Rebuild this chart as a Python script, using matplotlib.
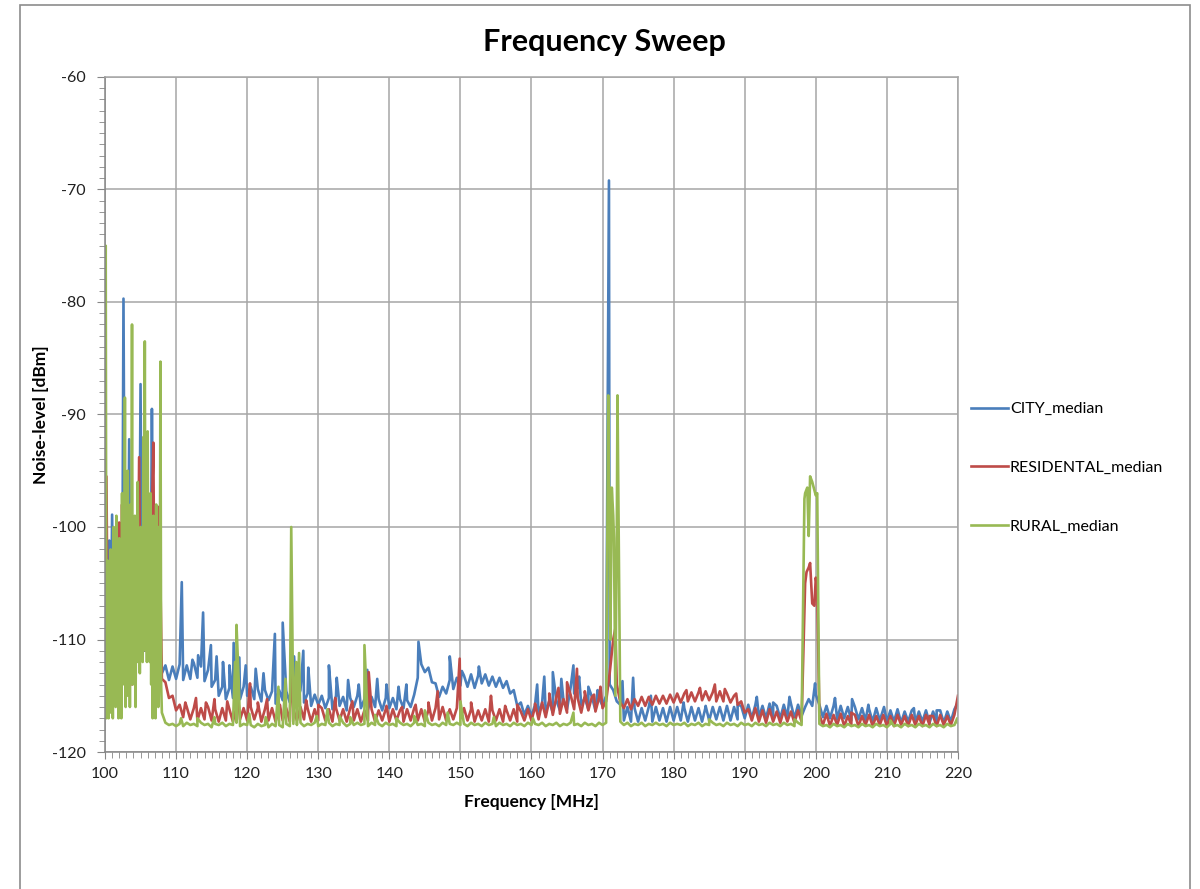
import numpy as np
import matplotlib.pyplot as plt
from matplotlib.patches import Rectangle
from matplotlib.ticker import MultipleLocator

plt.rcParams['font.family'] = ['Lato', 'DejaVu Sans']
plt.rcParams['axes.unicode_minus'] = False

# sweep grids [MHz]
f_dense = np.round(np.arange(100.0, 108.01, 0.2), 1)   # FM band, city + residental
f_fine = np.round(np.arange(100.0, 108.01, 0.1), 1)    # FM band, rural
f_main = np.round(np.arange(108.5, 220.01, 0.5), 1)    # rest of the sweep

################################ CITY #########################################
city_dense = [-108.5, -104.0, -110.0, -101.2, -112.0, -98.9, -111.0, -106.0, -113.0, -102.9,
              -110.0, -105.0, -112.0, -79.7, -108.0, -100.0, -111.0, -92.2, -109.0, -101.0,
              -112.0, -104.0, -110.0, -99.0, -108.0, -87.3, -110.0, -103.0, -111.0, -100.0,
              -109.0, -104.0, -110.0, -89.5, -106.0, -111.0, -102.0, -109.0, -104.0, -111.0,
              -113.0]
city_main = [-112.3, -113.6, -112.4, -113.5,
             # 110.5 - 120
             -112.2, -113.6, -112.3, -113.5, -112.1, -113.4, -112.4, -113.7, -112.7, -114.2,
             -113.6, -115.0, -114.2, -115.3, -114.3, -115.2, -114.4, -115.3, -114.2, -115.0,
             # 120.5 - 130
             -114.2, -115.3, -114.4, -115.5, -114.5, -115.4, -114.6, -115.7, -114.5, -115.4,
             -114.6, -115.6, -114.7, -115.5, -114.5, -115.6, -114.8, -115.9, -114.9, -115.8,
             # 130.5 - 140
             -115.0, -116.1, -115.2, -116.2, -115.0, -115.9, -115.1, -116.3, -115.2, -116.0,
             -115.0, -116.1, -115.3, -116.2, -115.1, -116.0, -115.3, -116.3, -115.2, -116.1,
             # 140.5 - 150
             -115.2, -116.2, -115.3, -116.1, -115.4, -116.0, -114.9, -113.4, -112.2, -112.9,
             -112.5, -113.8, -113.9, -115.1, -114.2, -114.8, -113.6, -114.4, -113.4, -114.1,
             # 150.5 - 160
             -113.2, -114.2, -113.1, -114.3, -113.2, -113.9, -113.1, -114.1, -113.3, -114.2,
             -113.4, -114.3, -113.7, -114.8, -114.5, -115.9, -115.6, -116.7, -115.9, -116.8,
             # 160.5 - 170
             -115.8, -116.7, -115.6, -116.5, -115.5, -116.5, -115.4, -116.3, -115.4, -116.2,
             -114.3, -114.8, -114.3, -115.8, -115.2, -116.2, -115.1, -116.3, -115.2, -115.9,
             # 170.5 - 180
             -115.0, -114.0, -114.5, -115.5, -115.8, -117.2, -116.0, -117.3, -116.1, -117.3,
             -116.1, -117.2, -116.0, -117.3, -116.0, -117.2, -116.1, -117.3, -116.0, -117.2,
             # 180.5 - 190
             -116.0, -117.2, -116.1, -117.3, -116.0, -117.2, -116.1, -117.3, -116.0, -117.2,
             -116.0, -117.1, -116.0, -117.2, -115.9, -117.2, -116.0, -117.1, -115.9, -117.0,
             # 190.5 - 200
             -115.8, -117.0, -115.8, -116.9, -115.9, -117.0, -115.7, -116.9, -115.9, -117.0,
             -115.8, -116.9, -115.7, -117.0, -115.8, -116.8, -116.0, -115.3, -115.9, -114.9,
             # 200.5 - 210
             -115.8, -116.9, -115.9, -117.0, -115.9, -117.1, -115.9, -117.0, -116.0, -117.2,
             -116.0, -117.1, -116.1, -117.2, -116.2, -117.3, -116.1, -117.2, -116.2, -117.3,
             # 210.5 - 220
             -116.3, -117.3, -116.2, -117.4, -116.4, -117.3, -116.3, -117.4, -116.4, -117.3,
             -116.3, -117.4, -116.4, -117.3, -116.3, -117.4, -116.4, -117.3, -116.2, -115.6]
city_spike_f = [110.8, 112.3, 113.1, 113.8, 114.9, 115.7, 116.6, 117.5, 118.1, 118.9,
                119.8, 121.2, 122.3, 123.9, 125.0, 126.6, 127.9, 128.6, 131.5, 132.6,
                134.2, 135.7, 136.9, 138.3, 139.6, 141.3, 142.4, 144.1, 148.5, 150.2,
                152.6, 160.8, 161.8, 163.0, 164.2, 165.9, 166.7, 168.0, 169.3, 170.9,
                172.8, 174.3, 176.8, 181.4, 184.5, 189.0, 191.7, 194.0, 196.3, 199.9,
                202.7, 205.1, 207.4, 209.6, 213.8, 217.0]
city_spike_db = [-104.9, -111.8, -111.4, -107.6, -110.5, -111.5, -112.0, -112.3, -110.3, -111.6,
                 -112.3, -112.6, -113.0, -109.5, -108.5, -111.5, -111.0, -112.5, -112.3, -113.4,
                 -113.6, -114.0, -112.7, -113.5, -114.0, -114.2, -114.0, -110.2, -111.5, -112.8,
                 -112.4, -114.0, -113.3, -112.9, -113.5, -112.3, -113.3, -114.2, -114.5, -69.2,
                 -113.7, -113.4, -115.0, -115.6, -115.9, -115.8, -115.1, -115.6, -115.1, -113.9,
                 -115.2, -115.3, -115.8, -116.0, -116.1, -116.3]

############################### RESIDENTAL ####################################
res_dense = [-110.0, -95.5, -112.0, -107.0, -114.0, -104.0, -113.0, -103.0, -112.0, -100.0,
             -99.6, -114.0, -98.0, -111.0, -104.0, -115.0, -102.0, -113.0, -106.0, -114.0,
             -103.0, -112.0, -107.0, -111.0, -93.8, -109.0, -104.0, -111.0, -101.0, -110.0,
             -100.0, -109.0, -104.0, -99.0, -92.5, -112.0, -103.0, -110.0, -98.2, -105.0,
             -113.5]
res_main = [-113.8, -115.2, -115.0, -116.3,
            # 110.5 - 120
            -115.8, -116.9, -116.0, -117.1, -116.1, -117.2, -116.1, -117.1, -116.0, -117.2,
            -116.2, -117.3, -116.1, -117.2, -116.2, -117.3, -116.0, -117.1, -116.1, -117.2,
            # 120.5 - 130
            -116.0, -117.1, -116.1, -117.3, -116.2, -117.2, -116.1, -117.3, -116.2, -117.2,
            -116.1, -117.3, -116.2, -117.2, -116.0, -117.1, -116.1, -117.3, -116.2, -117.2,
            # 130.5 - 140
            -116.1, -117.2, -116.2, -117.3, -116.1, -117.2, -116.2, -117.3, -116.1, -117.2,
            -116.2, -117.3, -116.3, -117.2, -116.2, -117.3, -116.3, -117.2, -116.2, -117.3,
            # 140.5 - 150
            -116.2, -117.2, -116.3, -117.3, -116.2, -117.2, -116.1, -117.2, -116.2, -117.3,
            -116.3, -117.2, -116.1, -117.1, -116.0, -117.2, -116.2, -117.1, -116.1, -117.0,
            # 150.5 - 160
            -116.1, -117.2, -116.2, -117.3, -116.3, -117.2, -116.2, -117.3, -116.3, -117.2,
            -116.2, -117.3, -116.3, -117.2, -116.2, -117.3, -116.4, -117.2, -116.2, -117.2,
            # 160.5 - 170
            -116.0, -117.1, -115.6, -116.9, -115.4, -116.7, -115.1, -116.6, -115.3, -116.5,
            -114.9, -116.2, -115.2, -116.5, -115.0, -116.3, -115.1, -116.4, -115.2, -116.1,
            # 170.5 - 180
            -115.5, -113.0, -110.0, -114.0, -115.6, -116.1, -115.3, -116.2, -115.3, -115.9,
            -115.1, -115.9, -115.1, -115.8, -115.0, -115.7, -115.0, -115.7, -114.9, -115.6,
            # 180.5 - 190
            -114.8, -115.6, -114.8, -115.5, -114.7, -115.5, -114.7, -115.4, -114.6, -115.4,
            -114.7, -115.5, -114.6, -115.5, -114.8, -115.6, -115.0, -115.8, -115.5, -116.5,
            # 190.5 - 200
            -116.2, -117.2, -116.1, -117.3, -116.3, -117.4, -116.2, -117.3, -116.4, -117.4,
            -116.3, -117.3, -116.4, -117.4, -116.3, -117.3, -105.0, -103.6, -106.8, -104.5,
            # 200.5 - 210
            -116.7, -117.6, -116.6, -117.7, -116.7, -117.6, -116.6, -117.7, -116.8, -117.6,
            -116.7, -117.7, -116.8, -117.6, -116.7, -117.7, -116.8, -117.6, -116.7, -117.7,
            # 210.5 - 220
            -116.8, -117.7, -116.7, -117.6, -116.8, -117.7, -116.7, -117.6, -116.8, -117.7,
            -116.7, -117.6, -116.8, -117.7, -116.7, -117.6, -116.8, -117.6, -116.7, -115.0]
res_spike_f = [111.3, 112.8, 114.2, 115.4, 117.2, 118.6, 120.4, 121.5, 122.8, 124.6,
               126.2, 128.3, 130.0, 132.4, 134.8, 137.1, 139.6, 141.8, 143.7, 145.5,
               146.8, 149.9, 151.5, 154.3, 156.3, 158.0, 160.5, 162.5, 163.8, 165.0,
               166.4, 167.5, 168.8, 169.7, 171.8, 181.8, 183.7, 185.8, 187.2, 188.8,
               198.7, 199.2, 199.8, 200.2, 205.0, 216.0]
res_spike_db = [-115.6, -115.2, -115.6, -115.3, -115.5, -114.3, -113.9, -115.6, -115.3, -115.8,
                -112.5, -115.4, -115.8, -115.2, -115.5, -112.9, -115.9, -116.0, -115.8, -115.6,
                -114.6, -111.7, -115.6, -115.0, -115.9, -115.8, -115.7, -114.8, -114.3, -113.8,
                -112.6, -114.6, -114.9, -114.2, -109.0, -114.5, -114.3, -114.0, -114.4, -114.8,
                -104.0, -103.2, -107.0, -105.5, -116.5, -116.8]

################################ RURAL ########################################
rural_fine = [-106.0, -75.0, -117.0, -116.0, -103.0, -117.0, -108.0, -116.5, -102.0, -115.0,
              -104.0, -117.0, -100.0, -114.0, -106.0, -116.0, -99.0, -113.0, -103.0, -117.0,
              -101.0, -115.0, -105.0, -117.0, -97.0, -112.0, -100.0, -114.0, -88.5, -116.0,
              -103.0, -115.0, -95.0, -110.0, -102.0, -116.0, -98.0, -108.0, -82.0, -114.0,
              -101.0, -113.0, -99.0, -116.0, -104.0, -112.0, -96.0, -110.0, -101.0, -113.0,
              -100.0, -111.0, -103.0, -112.0, -92.0, -108.0, -83.5, -111.0, -99.0, -112.0,
              -91.5, -110.0, -101.0, -112.0, -97.0, -114.0, -100.0, -117.0, -99.0, -115.0,
              -103.0, -117.0, -98.0, -114.0, -102.0, -116.0, -100.0, -112.0, -85.3, -114.0,
              -116.5]
rural_main = [-117.4, -117.6, -117.5, -117.7,
              # 110.5 - 120
              -117.5, -117.7, -117.4, -117.6, -117.5, -117.7, -117.4, -117.6, -117.5, -117.8,
              -117.5, -117.6, -117.4, -117.7, -117.5, -117.6, -117.4, -117.7, -117.5, -117.6,
              # 120.5 - 130
              -117.6, -117.8, -117.5, -117.7, -117.6, -117.8, -117.5, -117.7, -117.6, -117.8,
              -117.5, -117.7, -117.5, -117.6, -117.4, -117.7, -117.5, -117.6, -117.4, -117.7,
              # 130.5 - 140
              -117.5, -117.6, -117.4, -117.7, -117.5, -117.6, -117.4, -117.7, -117.5, -117.6,
              -117.4, -117.6, -117.5, -117.7, -117.4, -117.6, -117.5, -117.7, -117.4, -117.6,
              # 140.5 - 150
              -117.5, -117.7, -117.4, -117.6, -117.5, -117.7, -117.4, -117.6, -117.5, -117.7,
              -117.4, -117.6, -117.5, -117.7, -117.4, -117.6, -117.5, -117.6, -117.4, -117.6,
              # 150.5 - 160
              -117.5, -117.7, -117.4, -117.6, -117.5, -117.7, -117.4, -117.6, -117.5, -117.7,
              -117.4, -117.6, -117.5, -117.7, -117.4, -117.6, -117.5, -117.7, -117.4, -117.6,
              # 160.5 - 170
              -117.5, -117.6, -117.4, -117.7, -117.5, -117.6, -117.4, -117.7, -117.5, -117.6,
              -117.4, -117.6, -117.5, -117.7, -117.4, -117.6, -117.5, -117.7, -117.4, -117.6,
              # 170.5 - 180
              -117.4, -96.5, -99.0, -101.0, -117.3, -117.6, -117.4, -117.7, -117.5, -117.6,
              -117.4, -117.7, -117.5, -117.6, -117.4, -117.6, -117.5, -117.7, -117.4, -117.6,
              # 180.5 - 190
              -117.5, -117.6, -117.4, -117.7, -117.5, -117.6, -117.4, -117.7, -117.5, -117.6,
              -117.4, -117.6, -117.5, -117.7, -117.4, -117.6, -117.5, -117.7, -117.4, -117.6,
              # 190.5 - 200
              -117.5, -117.7, -117.4, -117.6, -117.5, -117.7, -117.4, -117.6, -117.5, -117.7,
              -117.4, -117.6, -117.5, -117.7, -117.4, -117.6, -97.0, -100.8, -96.0, -97.2,
              # 200.5 - 210
              -117.5, -117.7, -117.6, -117.8, -117.5, -117.7, -117.6, -117.8, -117.5, -117.7,
              -117.6, -117.8, -117.5, -117.7, -117.6, -117.8, -117.5, -117.7, -117.6, -117.8,
              # 210.5 - 220
              -117.5, -117.7, -117.6, -117.8, -117.5, -117.7, -117.6, -117.8, -117.5, -117.7,
              -117.6, -117.8, -117.5, -117.7, -117.6, -117.8, -117.5, -117.7, -117.6, -117.4]
rural_spike_f = [110.7, 113.0, 115.4, 118.3, 118.5, 118.8, 120.3, 122.6, 124.4, 125.4,
                 126.2, 126.9, 127.3, 129.8, 131.3, 133.0, 134.5, 136.5, 138.0, 141.0,
                 143.5, 145.0, 148.2, 150.0, 154.7, 160.2, 165.9, 170.8, 170.9, 171.1,
                 171.3, 171.6, 171.8, 172.1, 185.0, 197.0, 198.4, 198.8, 199.2, 200.2,
                 210.5, 219.9]
rural_spike_db = [-117.0, -117.0, -116.9, -112.0, -108.7, -113.5, -116.6, -116.9, -114.2, -113.5,
                  -100.0, -112.0, -111.2, -116.8, -116.2, -116.8, -116.9, -110.5, -116.7, -117.0,
                  -116.8, -116.3, -116.5, -115.5, -116.9, -117.0, -116.5, -88.3, -97.0, -110.0,
                  -96.5, -101.0, -115.0, -88.3, -117.1, -117.1, -97.5, -96.5, -95.5, -97.0,
                  -117.2, -117.0]

labels = ['CITY_median', 'RESIDENTAL_median', 'RURAL_median']
colors = ['#4a7ebb', '#be4b48', '#98b954']


def sweep(fa, dense, main, sf, sdb):
    '''joins the two sweep grids and the single-bin peaks, sorted by frequency'''
    f = np.concatenate([fa, f_main, sf])
    v = np.concatenate([dense, main, sdb])
    order = np.argsort(f, kind='stable')
    return f[order], v[order]


series = [sweep(f_dense, city_dense, city_main, city_spike_f, city_spike_db),
          sweep(f_dense, res_dense, res_main, res_spike_f, res_spike_db),
          sweep(f_fine, rural_fine, rural_main, rural_spike_f, rural_spike_db)]

fig = plt.figure(figsize=(12, 8.89), dpi=100)
ax = fig.add_axes([0.0875, 0.1541, 0.7108, 0.7593])

for (f, v), lab, c in zip(series, labels, colors):
    ax.plot(f, v, color=c, lw=1.9, label=lab)

ax.set_xlim(100, 220)
ax.set_ylim(-120, -60)
ax.xaxis.set_major_locator(MultipleLocator(10))
ax.xaxis.set_minor_locator(MultipleLocator(1))
ax.yaxis.set_major_locator(MultipleLocator(10))
ax.yaxis.set_minor_locator(MultipleLocator(1))
ax.grid(True, which='major', color='#a6a6a6', lw=1.1)
ax.set_axisbelow(True)
for s in ax.spines.values():
    s.set_color('#a6a6a6')
    s.set_linewidth(1.1)
ax.spines['left'].set_color('#868686')
ax.spines['bottom'].set_color('#868686')
ax.tick_params(which='both', colors='#868686', labelcolor='#202020', labelsize=11.5)
ax.tick_params(axis='x', which='major', direction='out', length=5, pad=6)
ax.tick_params(axis='x', which='minor', direction='out', length=4)
ax.tick_params(axis='y', which='major', direction='out', length=6, pad=8)
ax.tick_params(axis='y', which='minor', direction='out', length=4)

ax.set_xlabel('Frequency [MHz]', fontsize=12.5, fontweight='bold', labelpad=9)
ax.set_ylabel('Noise-level [dBm]', fontsize=12.5, fontweight='bold', labelpad=2)
fig.text(0.504, 0.953, 'Frequency Sweep', ha='center', va='center',
         fontsize=22, fontweight='bold')

fig.legend(loc='center left', bbox_to_anchor=(0.797, 0.4736), frameon=False,
           fontsize=11.5, handlelength=2.3, handletextpad=0.15, labelspacing=2.8)

# outer chart frame
fig.patches.append(Rectangle((0.017, -0.02), 0.975, 1.0144, transform=fig.transFigure,
                             fill=False, edgecolor='#8c8c8c', lw=1.2))

fig.savefig('out.png', dpi=100)
